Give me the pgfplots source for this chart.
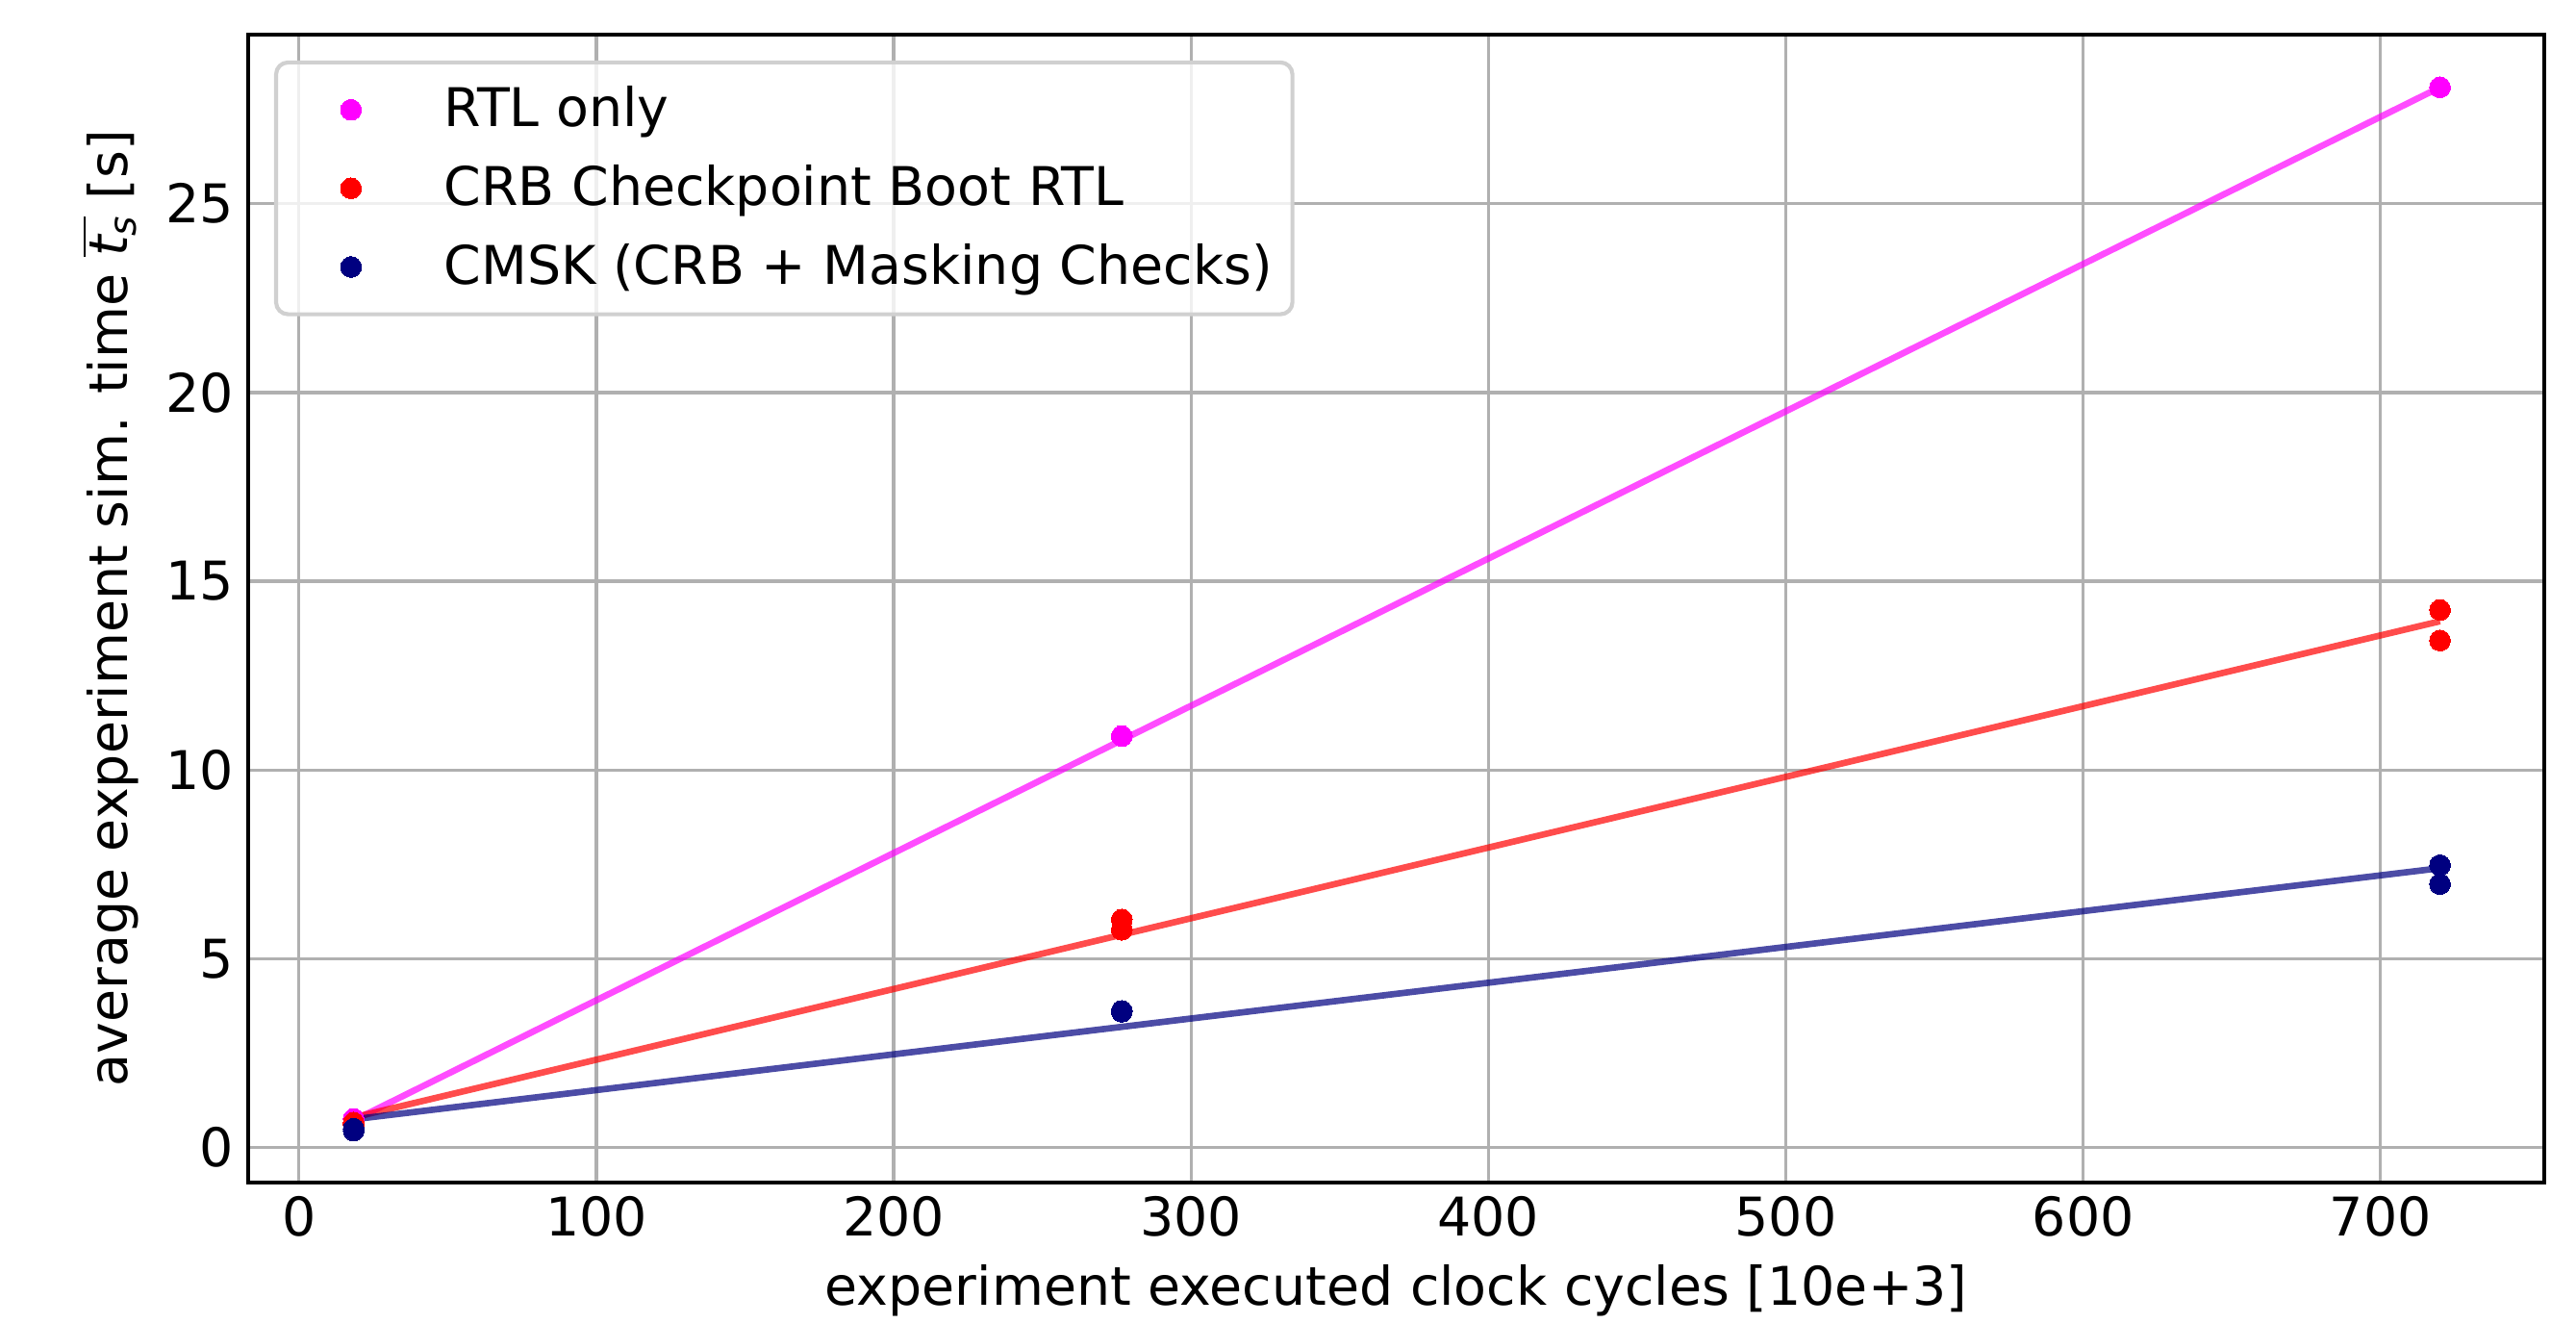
\documentclass[border=0pt]{standalone}
\usepackage{fontspec}
\setmainfont{DejaVu Sans}
\usepackage{pgfplots}
\pgfplotsset{compat=1.18}
\usetikzlibrary{calc}
\definecolor{gridgray}{HTML}{B0B0B0}
\definecolor{navyc}{HTML}{000080}
\definecolor{magc}{HTML}{FF00FF}
\definecolor{redc}{HTML}{FF0000}
\definecolor{legframe}{HTML}{D0D0D0}
\newcommand{\fs}{\fontsize{13.3}{16}\selectfont}
\begin{document}
\begin{tikzpicture}
\begin{axis}[
  scale only axis, width=572.9pt, height=286.3pt,
  xmin=-17.1, xmax=755.1, ymin=-0.92, ymax=29.48,
  xtick={0,100,...,700}, ytick={0,5,...,25},
  major tick length=0pt,
  grid=major, major grid style={gridgray, line width=0.8pt},
  axis line style={black, line width=0.9pt},
  tick label style={font=\fs},
  /pgf/number format/assume math mode=true,
  label style={font=\fs},
  xlabel={experiment executed clock cycles [10e+3]},
  ylabel={average experiment sim. time $\overline{\mbox{\itshape t\raisebox{-0.3ex}{\fontsize{9.4}{10}\selectfont s}}}$ [s]},
  legend cell align=left,
  legend image code/.code={\path[draw=none,fill=none] (0pt,0pt) (31.4pt,0pt); \draw[#1, only marks, fill opacity=1, draw opacity=1, every mark/.append style={fill opacity=1, draw opacity=1}] plot coordinates {(15.7pt,0pt)};},
  legend style={at={(0.0113,0.9774)}, anchor=north west, draw=legframe, line width=1pt,
    rounded corners=3pt, fill=white, fill opacity=0.8, text opacity=1, draw opacity=1,
    font=\fs, inner xsep=3pt, inner ysep=4pt, row sep=4pt,
    /tikz/every odd column/.append style={column sep=5.5pt}},
]
\coordinate (A) at (rel axis cs:0,0);
\coordinate (B) at (rel axis cs:1,1);
\addplot[magc, opacity=0.7, line width=1.6pt, forget plot] coordinates {(18.4,0.72) (720,28.08)};
\addplot[redc, opacity=0.7, line width=1.6pt, forget plot] coordinates {(18.4,0.80) (720,13.94)};
\addplot[navyc, opacity=0.7, line width=1.6pt, forget plot] coordinates {(18.4,0.75) (720,7.40)};
\addplot[only marks, color=magc, mark=*, mark size=2.6pt, mark options={draw=magc, fill=magc, line width=0pt}] coordinates {
(18.4,0.76) (276.7,10.9) (720,28.08)};
\addlegendentry{RTL only}
\addplot[only marks, color=redc, mark=*, mark size=2.6pt, mark options={draw=redc, fill=redc, line width=0pt}] coordinates {
(18.4,0.66) (18.4,0.62) (276.7,6.04) (276.7,5.77) (720,14.24) (720,13.43)};
\addlegendentry{CRB Checkpoint Boot RTL}
\addplot[only marks, color=navyc, mark=*, mark size=2.6pt, mark options={draw=navyc, fill=navyc, line width=0pt}] coordinates {
(18.4,0.50) (18.4,0.45) (276.7,3.62) (276.7,3.60) (720,7.48) (720,6.98)};
\addlegendentry{CMSK (CRB + Masking Checks)}
\end{axis}
\pgfresetboundingbox
\path ($(A)+(-61.9pt,-35.3pt)$) rectangle ($(B)+(7.9pt,8.6pt)$);
\end{tikzpicture}
\end{document}
